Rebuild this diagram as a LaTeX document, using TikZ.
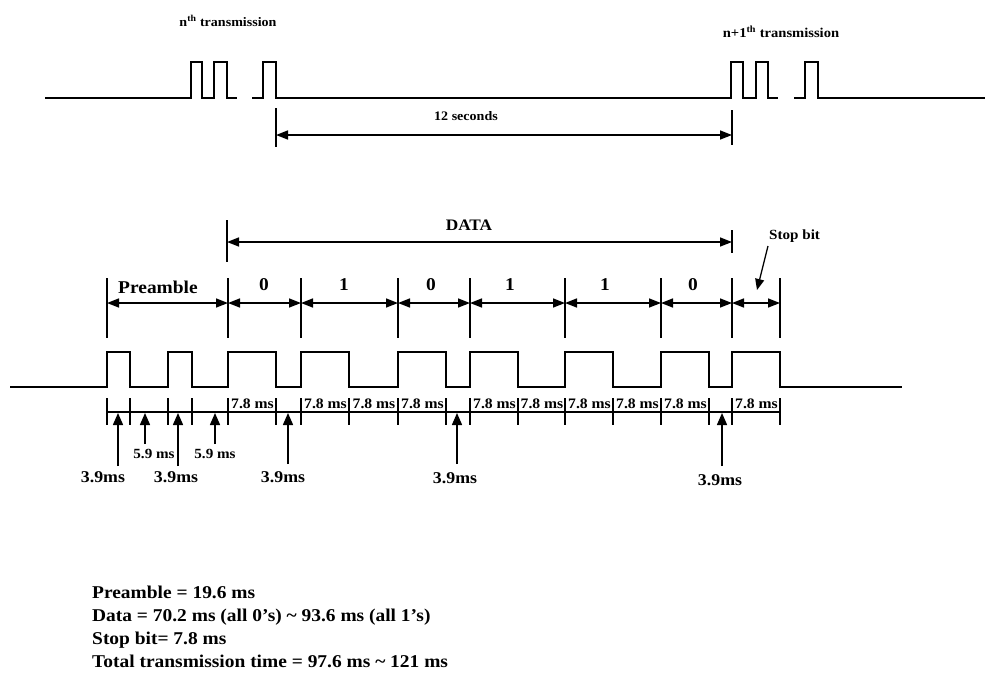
\documentclass[tikz,border=0pt]{standalone}
\usepackage{fontspec}
\setmainfont{Liberation Serif}
\newfontfamily\wfont[FakeStretch=1.08]{Liberation Serif}
\usetikzlibrary{arrows.meta}
\newcommand{\fsz}[1]{\wfont\bfseries\fontsize{#1}{#1}\selectfont}
\begin{document}
\begin{tikzpicture}[x=1pt,y=-1pt,
  wave/.style={line width=2.2pt, line join=miter},
  tick/.style={line width=1.9pt},
  dimarrow/.style={line width=1.5pt, {Triangle[length=12pt,width=9pt]}-{Triangle[length=12pt,width=9pt]}},
  ptr/.style={line width=1.5pt, -{Triangle[length=12pt,width=10pt]}},
  txt/.style={inner sep=0pt},
  bitl/.style={txt, font=\fsz{18}},
  msl/.style={txt, font=\fsz{14.5}},
  thr/.style={txt, font=\fsz{16.5}},
  fiv/.style={txt, font=\fsz{14}},
  notel/.style={txt, font=\fsz{18}, anchor=base west}
]
\useasboundingbox[fill=white] (0,0) rectangle (987,675);

% ---------- top: transmissions ----------
\draw[wave] (45,98) -- (191,98) -- (191,62) -- (202,62) -- (202,98) -- (214,98) -- (214,62) -- (227,62) -- (227,98) -- (237,98);
\draw[wave] (252,98) -- (263,98) -- (263,62) -- (276,62) -- (276,98) -- (731,98) -- (731,62) -- (743,62) -- (743,98) -- (756,98) -- (756,62) -- (768,62) -- (768,98) -- (778,98);
\draw[wave] (794,98) -- (805,98) -- (805,62) -- (818,62) -- (818,98) -- (985,98);
\node[txt, font=\fsz{13}] (tn) at (228,21) {n\textsuperscript{th} transmission};
\node[txt, font=\fsz{13.5}] (tn1) at (781,32) {n+1\textsuperscript{th} transmission};

\coordinate (s1t) at (276,108); \coordinate (s1b) at (276,147);
\coordinate (s2t) at (732,110); \coordinate (s2b) at (732,145);
\draw[tick] (s1t) -- (s1b);
\draw[tick] (s2t) -- (s2b);
\coordinate (s1) at (276,135); \coordinate (s2) at (732,135);
\draw[dimarrow] (s1) -- (s2);
\node[txt, font=\fsz{13}] (sec) at (466,116) {12 seconds};

% ---------- DATA ----------
\coordinate (d1t) at (227,220); \coordinate (d1b) at (227,262);
\coordinate (d2t) at (732,230); \coordinate (d2b) at (732,253);
\draw[tick] (d1t) -- (d1b);
\draw[tick] (d2t) -- (d2b);
\coordinate (d1) at (227,242); \coordinate (d2) at (732,242);
\draw[dimarrow] (d1) -- (d2);
\node[txt, font=\fsz{16}] (data) at (469,225) {DATA};

% ---------- bit boundaries ----------
\foreach \x [count=\i] in {107,228,301,398,470,565,661,732,780} {
  \coordinate (b\i) at (\x,303);
  \draw[tick] (\x,278) -- (\x,338);
}
\foreach \a/\b in {1/2,2/3,3/4,4/5,5/6,6/7,7/8,8/9} {
  \draw[dimarrow] (b\a) -- (b\b);
}
\node[bitl] (pre) at (158,287) {Preamble};
\node[bitl] (bit1) at (264,285) {0};
\node[bitl] (bit2) at (344,285) {1};
\node[bitl] (bit3) at (431,285) {0};
\node[bitl] (bit4) at (510,285) {1};
\node[bitl] (bit5) at (605,285) {1};
\node[bitl] (bit6) at (693,285) {0};
\node[txt, font=\fsz{14}, anchor=west] (stop) at (769,236) {Stop bit};
\coordinate (stopa) at (768,246);
\coordinate (stopb) at (757,290);
\draw[line width=1.3pt, -{Triangle[length=11pt,width=9pt]}] (stopa) -- (stopb);

% ---------- lower waveform ----------
\draw[wave] (10,387) -- (107,387) -- (107,352) -- (130,352) -- (130,387) -- (168,387) -- (168,352) -- (192,352) -- (192,387)
  -- (228,387) -- (228,352) -- (276,352) -- (276,387) -- (301,387) -- (301,352) -- (349,352) -- (349,387)
  -- (398,387) -- (398,352) -- (446,352) -- (446,387) -- (470,387) -- (470,352) -- (518,352) -- (518,387)
  -- (565,387) -- (565,352) -- (613,352) -- (613,387) -- (661,387) -- (661,352) -- (709,352) -- (709,387)
  -- (732,387) -- (732,352) -- (780,352) -- (780,387) -- (902,387);

% ---------- timing ruler ----------
\coordinate (r0) at (107,412); \coordinate (r1) at (780,412);
\draw[line width=1.7pt] (r0) -- (r1);
\foreach \x in {107,130,168,192,228,276,301,349,398,446,470,518,565,613,661,709,732,780} {
  \draw[tick] (\x,398) -- (\x,425);
}
\foreach \a/\b in {228/276,301/349,349/398,398/446,470/518,518/565,565/613,613/661,661/709,732/780} {
  \node[msl] at ({(\a+\b)/2+0.5},404) {7.8 ms};
}

% ---------- pointers ----------
\foreach \x/\ty/\lx/\ly in {118/466/103/477, 178/466/176/477, 288/464/283/477, 457/464/455/478, 722/466/720/480} {
  \coordinate (pt) at (\x,\ty);
  \coordinate (ph) at (\x,413);
  \draw[ptr] (pt) -- (ph);
  \node[thr] at (\lx,\ly) {3.9ms};
}
\foreach \x/\ty/\lx/\ly in {145/444/154/454, 215/444/215/454} {
  \coordinate (pt) at (\x,\ty);
  \coordinate (ph) at (\x,413);
  \draw[ptr] (pt) -- (ph);
  \node[fiv] at (\lx,\ly) {5.9 ms};
}

% ---------- notes ----------
\node[notel] (n1) at (92,598) {Preamble = 19.6 ms};
\node[notel] (n2) at (92,621) {Data = 70.2 ms (all 0’s) \textasciitilde{} 93.6 ms (all 1’s)};
\node[notel] (n3) at (92,644) {Stop bit= 7.8 ms};
\node[notel] (n4) at (92,667) {Total transmission time = 97.6 ms \textasciitilde{} 121 ms};
\end{tikzpicture}
\end{document}
